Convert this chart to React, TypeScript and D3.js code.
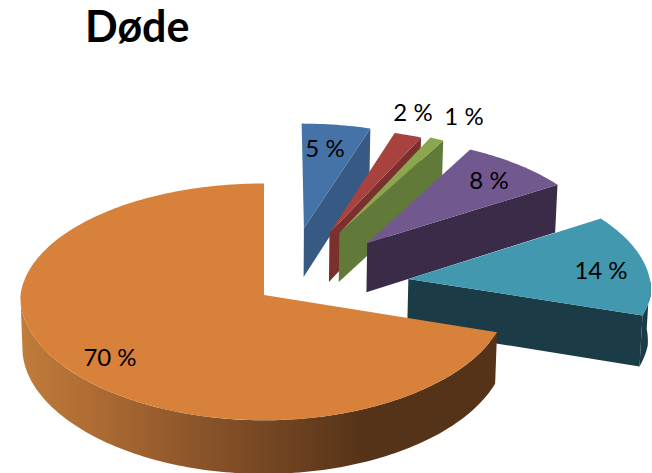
import * as d3 from 'd3';
import React from 'react';

const labels = ['5 %', '2 %', '1 %', '8 %', '14 %', '70 %'];
const values = [5, 2, 1, 8, 14, 70];
const title = 'Døde';

const topColors = ['#4573a8', '#a8423f', '#8aa64e', '#71588f', '#4198af', '#d8813a'];
const sideColors = ['#365a84', '#7b302e', '#627a39', '#3a2b49', '#1b3b47', 'url(#orangeWall)'];

// how far each slice is pulled out, in units of the radius (right, towards viewer)
const explodeU = [0.17, 0.278, 0.32, 0.436, 0.598, 0];
const explodeV = [-0.586, -0.541, -0.541, -0.452, -0.137, 0];

// label centres
const labelX = [325, 413, 464, 489, 601, 110];
const labelY = [147, 111, 115, 179, 269, 356];

const width = 652;
const height = 473;
const cx = 264;
const cy = 295;
const radiusX = 243.5;
const radiusY = 118;
const perspBack = 0.063;
const perspFront = 0.02;
const perspY = 0.058;
const depth = 50.5;
const bottomShrink = 0.992;

type Pt = [number, number];

// disc coordinates to screen, z = 1 is the bottom plane of the pie
function project(u: number, v: number, z: number): Pt {
    const wx = 1 - (v < 0 ? perspBack : perspFront) * v;
    const wy = 1 - perspY * v;
    const shrink = z ? bottomShrink : 1;
    return [cx + (radiusX * u * shrink) / wx, cy + (radiusY * v) / wy + (z * depth) / wy];
}

const pie = d3.pie<number>().sort(null).startAngle(0).endAngle(2 * Math.PI);
const line = d3.line<Pt>();

function rim(i: number, a0: number, a1: number, z: number): Pt[] {
    const n = Math.max(2, Math.ceil(Math.abs(a1 - a0) / 0.02));
    return d3.range(n + 1).map((k) => {
        const a = a0 + ((a1 - a0) * k) / n;
        return project(explodeU[i] + Math.sin(a), explodeV[i] - Math.cos(a), z);
    });
}

export default function App() {
    const slices = pie(values);

    return (
        <svg
            width={width}
            height={height}
            style={{ position: 'absolute', left: 0, top: 0, display: 'block' }}
        >
            <defs>
                <linearGradient id="orangeWall" gradientUnits="userSpaceOnUse" x1={20} x2={497} y1={0} y2={0}>
                    <stop offset="0" stopColor="#bf7c3a" />
                    <stop offset="0.17" stopColor="#ac6a33" />
                    <stop offset="0.38" stopColor="#8a5429" />
                    <stop offset="0.59" stopColor="#6a401f" />
                    <stop offset="0.72" stopColor="#553318" />
                    <stop offset="1" stopColor="#553318" />
                </linearGradient>
            </defs>

            <text x={85} y={42} fontFamily="Lato" fontWeight={700} fontSize={43} fill="#000">
                {title}
            </text>

            {slices.map((d, i) => {
                const apex = project(explodeU[i], explodeV[i], 0);
                const apexLow = project(explodeU[i], explodeV[i], 1);
                const top = rim(i, d.startAngle, d.endAngle, 0);
                const end = top[top.length - 1];
                const endLow = project(
                    explodeU[i] + Math.sin(d.endAngle),
                    explodeV[i] - Math.cos(d.endAngle),
                    1
                );
                // outer wall is only seen on the front half of the circle
                const wallFrom = Math.max(d.startAngle, Math.PI / 2);
                const wallTo = Math.min(d.endAngle, Math.PI * 1.48);
                const hasWall = wallTo > wallFrom;
                // the cut at the end angle faces the viewer as long as it is on the right side
                const hasCut = d.endAngle < Math.PI;
                return (
                    <g key={labels[i]}>
                        {hasCut && (
                            <path
                                d={line([apex, end, endLow, apexLow])! + 'Z'}
                                fill={sideColors[i]}
                            />
                        )}
                        {hasWall && (
                            <path
                                d={
                                    line([
                                        ...rim(i, wallFrom, wallTo, 0),
                                        ...rim(i, wallTo, wallFrom, 1),
                                    ])! + 'Z'
                                }
                                fill={sideColors[i]}
                            />
                        )}
                        <path d={line([apex, ...top])! + 'Z'} fill={topColors[i]} />
                    </g>
                );
            })}

            {labels.map((t, i) => (
                <text
                    key={t}
                    x={labelX[i]}
                    y={labelY[i]}
                    textAnchor="middle"
                    dominantBaseline="central"
                    fontFamily="Lato"
                    fontSize={24}
                    fill="#000"
                >
                    {t}
                </text>
            ))}
        </svg>
    );
}
